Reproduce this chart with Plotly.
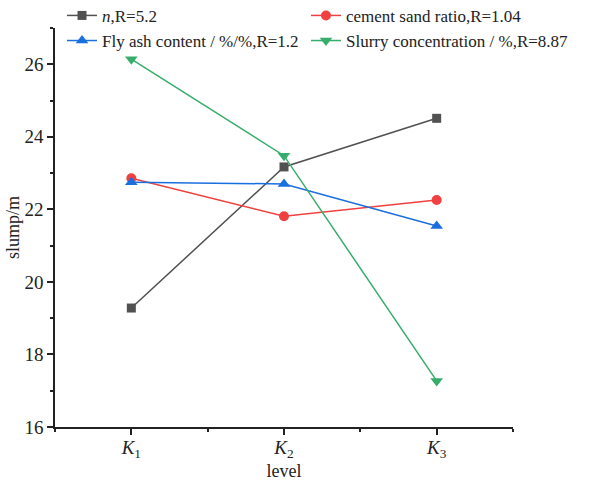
import plotly.graph_objects as go

levels = [1, 2, 3]
level_labels = ["<i>K</i><sub>1</sub>", "<i>K</i><sub>2</sub>", "<i>K</i><sub>3</sub>"]
n_vals = [19.28, 23.17, 24.51]
cement_vals = [22.86, 21.81, 22.26]
flyash_vals = [22.75, 22.70, 21.54]
slurry_vals = [26.14, 23.48, 17.27]

names = ["<i>n</i>,R=5.2", "cement sand ratio,R=1.04",
         "Fly ash content / %/%,R=1.2", "Slurry concentration / %,R=8.87"]
colors = ["#515151", "#F14040", "#1A6FDF", "#37AD6B"]
symbols = ["square", "circle", "triangle-up", "triangle-down"]
sizes = [9, 10, 11, 11]
legend_ids = ["legend", "legend2", "legend", "legend2"]
series = [n_vals, cement_vals, flyash_vals, slurry_vals]

FONT = "Liberation Serif, Times New Roman, serif"

fig = go.Figure()
for vals, nm, c, s, sz, lg in zip(series, names, colors, symbols, sizes, legend_ids):
    fig.add_trace(go.Scatter(
        x=levels, y=vals, name=nm, mode="lines+markers",
        line=dict(color=c, width=1.5),
        marker=dict(color=c, symbol=s, size=sz),
        legend=lg,
    ))

axis_common = dict(
    showline=True, linecolor="#222222", linewidth=1.5,
    ticks="outside", ticklen=6, tickwidth=1.5, tickcolor="#222222",
    showgrid=False, zeroline=False, mirror=False, automargin=False,
    tickfont=dict(family=FONT, size=19, color="#222222"),
)

fig.update_xaxes(
    range=[0.5, 3.5], tickmode="array", tickvals=levels, ticktext=level_labels,
    ticklabelstandoff=-4,
    minor=dict(ticks="outside", ticklen=3, tickwidth=1.5, tickcolor="#222222",
               tick0=0.5, dtick=0.5),
    title=dict(text="level", font=dict(family=FONT, size=18, color="#222222"), standoff=2),
    **axis_common,
)
fig.update_yaxes(
    range=[16, 27], tick0=16, dtick=2,
    minor=dict(ticks="outside", ticklen=3, tickwidth=1.5, tickcolor="#222222",
               tick0=17, dtick=2),
    title=dict(text="slump/m", font=dict(family=FONT, size=18, color="#222222"), standoff=0),
    **axis_common,
)

leg_common = dict(
    font=dict(family=FONT, size=17, color="#222222"),
    bgcolor="rgba(0,0,0,0)", borderwidth=0,
    orientation="v", xanchor="left", yanchor="top", tracegroupgap=0,
    itemclick=False,
)
fig.update_layout(
    width=613, height=484,
    margin=dict(l=55, r=100, t=28, b=57, autoexpand=False),
    paper_bgcolor="white", plot_bgcolor="white",
    font=dict(family=FONT, size=18, color="#222222"),
    legend=dict(x=0.0153, y=1.0755, **leg_common),
    legend2=dict(x=0.548, y=1.0755, **leg_common),
)

fig.write_html("out.html",
               config={"displayModeBar": False},
               post_script="document.body.style.margin='0';document.body.style.padding='0';")
